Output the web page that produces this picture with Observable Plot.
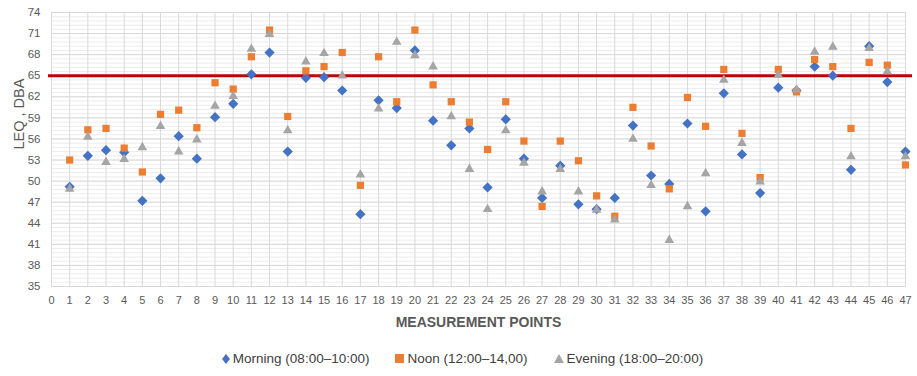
<!DOCTYPE html>
<html>
<head>
<meta charset="utf-8">
<script src="https://cdn.jsdelivr.net/npm/d3@7"></script>
<script src="https://cdn.jsdelivr.net/npm/@observablehq/plot@0.6"></script>
<style>
  html, body { margin: 0; padding: 0; background: #fff; }
  body { width: 917px; height: 376px; overflow: hidden; font-family: "Liberation Sans Narrow", "Liberation Sans", sans-serif; }
  #legend { display: flex; justify-content: center; gap: 26px; font-size: 13.5px; color: #404040; margin-top: 6px; margin-left: 8px; }
  #legend span { display: inline-flex; align-items: center; gap: 3px; }
</style>
</head>
<body>
<div id="chart"></div>
<div id="legend"></div>
<script>
const points = d3.range(1, 48);
const morning = [49.2,53.6,54.4,54.1,47.2,50.4,56.4,53.2,59.1,61.0,65.2,68.3,54.2,64.7,64.8,62.9,45.3,61.5,60.4,68.6,58.6,55.1,57.5,49.1,58.8,53.2,47.6,52.2,46.7,46.0,47.6,57.9,50.8,49.6,58.2,45.7,62.5,53.8,48.3,63.3,62.9,66.3,65.0,51.6,69.2,64.1,54.2];
const noon = [53.0,57.3,57.5,54.7,51.3,59.5,60.1,57.6,64.0,63.1,67.7,71.5,59.2,65.7,66.3,68.3,49.4,67.7,61.3,71.5,63.7,61.3,58.4,54.5,61.3,55.7,46.4,55.7,52.9,47.9,45.0,60.5,55.0,48.9,61.9,57.8,65.9,56.8,50.5,65.9,62.7,67.3,66.3,57.5,66.9,66.5,52.3];
const evening = [48.9,56.3,52.7,53.1,54.8,57.8,54.2,55.9,60.7,62.1,68.8,70.9,57.2,67.0,68.2,65.0,50.9,60.3,69.8,67.9,66.3,59.2,51.7,46.0,57.2,52.6,48.5,51.7,48.5,45.9,44.5,56.0,49.4,41.6,46.4,51.1,64.4,55.4,49.9,65.1,63.0,68.4,69.1,53.5,68.9,65.6,53.5];
const seriesNames = ["Morning (08:00\u201310:00)", "Noon (12:00\u201314,00)", "Evening (18:00\u201320:00)"];
const seriesColors = ["#4472c4", "#ed7d31", "#a5a5a5"];
const seriesSymbols = ["diamond2", "square2", "triangle2"];
const limit = [65];
const xTicks = d3.range(0, 48);
const yTicks = d3.range(35, 75, 3);
const yMinor = d3.range(35, 74.01, 0.6);

const rows = [];
[morning, noon, evening].forEach((vals, si) => {
  vals.forEach((v, i) => rows.push({point: points[i], value: v, series: seriesNames[si]}));
});

const font = '"Liberation Sans Narrow", "Liberation Sans", sans-serif';

const chart = Plot.plot({
  width: 917,
  height: 345,
  marginLeft: 51,
  marginRight: 12,
  marginTop: 12,
  marginBottom: 59,
  style: {fontFamily: font, fontSize: "12px", color: "#595959", background: "#fff"},
  x: {domain: [0, 47], ticks: xTicks, tickSize: 0, tickPadding: 10, label: null},
  y: {domain: [35, 74], ticks: yTicks, tickSize: 0, tickPadding: 11, label: null},
  color: {domain: seriesNames, range: seriesColors},
  symbol: {domain: seriesNames, range: seriesSymbols},
  marks: [
    Plot.ruleY(yMinor, {stroke: "#ececec", strokeWidth: 1}),
    Plot.gridY(yTicks, {stroke: "#d9d9d9", strokeOpacity: 1}),
    Plot.gridX(xTicks, {stroke: "#d9d9d9", strokeOpacity: 1}),
    Plot.frame({stroke: "#d9d9d9"}),
    Plot.axisX(xTicks, {tickSize: 0, tickPadding: 10, fill: "#595959", fontSize: 11}),
    Plot.axisY(yTicks, {tickSize: 0, tickPadding: 11, fill: "#595959", fontSize: 11.5}),
    Plot.ruleY(limit, {stroke: "#c00000", strokeWidth: 3, insetLeft: -3, insetRight: -7}),
    Plot.dot(rows, {x: "point", y: "value", fill: "series", symbol: "series", r: 4.6, stroke: null}),
    Plot.text(["MEASUREMENT POINTS"], {frameAnchor: "bottom", dy: 40, fontWeight: "bold", fontSize: 14, fill: "#595959"}),
    Plot.text(["LEQ , DBA"], {frameAnchor: "left", dx: -32, rotate: -90, fontSize: 14.5, fill: "#595959"})
  ]
});
document.getElementById("chart").appendChild(chart);

const legend = document.getElementById("legend");
const shapes = [
  '<svg width="8" height="10"><polygon points="4,0 8,5 4,10 0,5" fill="#4472c4"/></svg>',
  '<svg width="9" height="9"><rect width="9" height="9" fill="#ed7d31"/></svg>',
  '<svg width="10" height="9"><polygon points="5,0 10,9 0,9" fill="#a5a5a5"/></svg>'
];
seriesNames.forEach((n, i) => {
  const s = document.createElement("span");
  s.innerHTML = shapes[i] + " " + n;
  legend.appendChild(s);
});
</script>
</body>
</html>
